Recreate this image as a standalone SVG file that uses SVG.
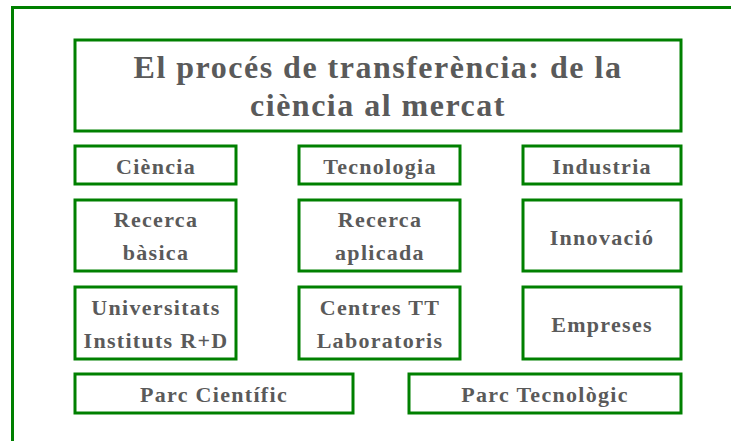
<svg xmlns="http://www.w3.org/2000/svg" width="731" height="441" viewBox="0 0 731 441">
<style>
.box{fill:#fff;stroke:#008000;stroke-width:3}
.t{font-family:"Liberation Serif","Times New Roman",serif;font-weight:bold;fill:#5a5a5a;text-anchor:middle;font-size:22px;letter-spacing:1.3px}
.title{font-size:32px;letter-spacing:1.5px}
</style>
<rect width="731" height="441" fill="#fff"/>
<g id="frame"><path d="M12.5 441 V7.5 H731" fill="none" stroke="#008000" stroke-width="3"/></g>
<g id="title"><rect class="box" x="75" y="40" width="606" height="91"/>
<text class="t title" x="378" y="78">El procés de transferència: de la</text>
<text class="t title" x="378" y="116">ciència al mercat</text></g>
<g id="ciencia"><rect class="box" x="75" y="146" width="161" height="38"/><text class="t" x="156" y="174">Ciència</text></g>
<g id="tecnologia"><rect class="box" x="299" y="146" width="161" height="38"/><text class="t" x="380" y="174">Tecnologia</text></g>
<g id="industria"><rect class="box" x="523" y="146" width="158" height="38"/><text class="t" x="602" y="174">Industria</text></g>
<g id="recerca-basica"><rect class="box" x="75" y="200" width="161" height="71"/><text class="t" x="156" y="227">Recerca</text><text class="t" x="156" y="260">bàsica</text></g>
<g id="recerca-aplicada"><rect class="box" x="299" y="200" width="161" height="71"/><text class="t" x="380" y="227">Recerca</text><text class="t" x="380" y="260">aplicada</text></g>
<g id="innovacio"><rect class="box" x="523" y="200" width="158" height="71"/><text class="t" x="602" y="245">Innovació</text></g>
<g id="universitats"><rect class="box" x="75" y="287" width="161" height="72"/><text class="t" x="156" y="315">Universitats</text><text class="t" x="156" y="348">Instituts R+D</text></g>
<g id="centres"><rect class="box" x="299" y="287" width="161" height="72"/><text class="t" x="380" y="315">Centres TT</text><text class="t" x="380" y="348">Laboratoris</text></g>
<g id="empreses"><rect class="box" x="523" y="287" width="158" height="72"/><text class="t" x="602" y="332">Empreses</text></g>
<g id="parc-cientific"><rect class="box" x="75" y="374" width="278" height="39"/><text class="t" x="214" y="402">Parc Científic</text></g>
<g id="parc-tecnologic"><rect class="box" x="409" y="374" width="272" height="39"/><text class="t" x="545" y="402">Parc Tecnològic</text></g>
<g id="connectors"></g>
</svg>
